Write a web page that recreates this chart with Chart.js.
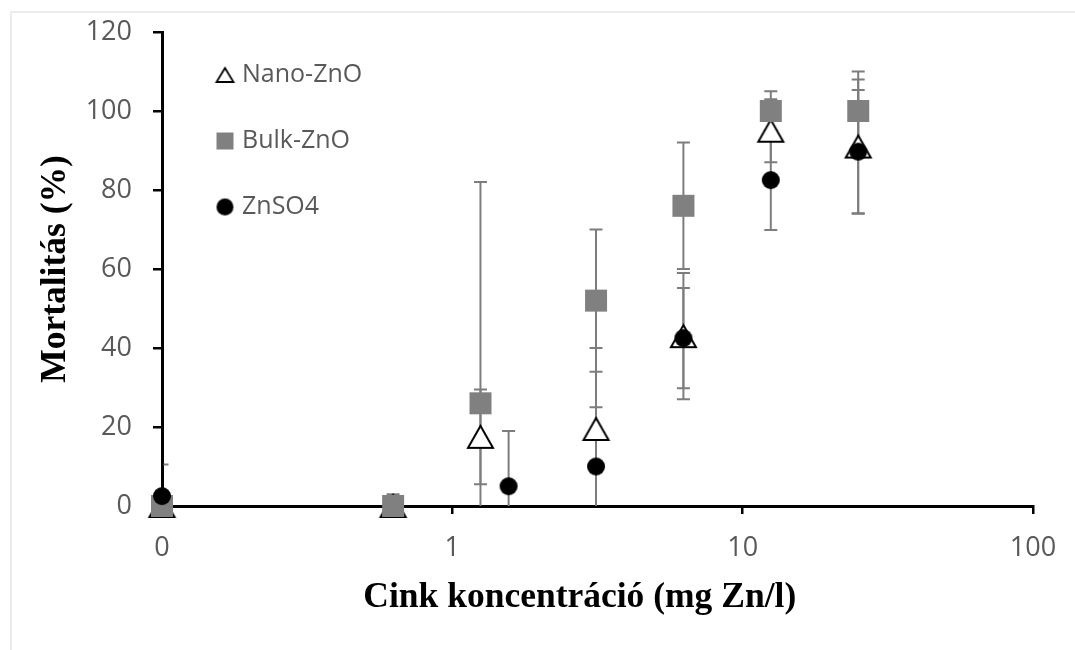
<!DOCTYPE html>
<html lang="hu">
<head>
<meta charset="utf-8">
<title>Mortalitás – cink koncentráció</title>
<script src="https://cdn.jsdelivr.net/npm/chart.js@4.4.1/dist/chart.umd.min.js"></script>
<style>
  html, body { margin: 0; padding: 0; background: #fff; }
  #wrap { position: relative; width: 1075px; height: 650px; overflow: hidden; }
  #frame { position: absolute; left: 10px; top: 11px; right: -5px; bottom: -5px;
           border-top: 2px solid #ececec; border-left: 2px solid #ececec; }
  #chart { position: absolute; left: 0; top: 0; }
</style>
</head>
<body>
<div id="wrap">
  <div id="frame"></div>
  <canvas id="chart" width="1075" height="650"></canvas>
</div>
<script>
// Zinc concentration (mg Zn/l); the untreated control (0) is placed at 0.1 on the log axis
const nanoConc  = [0.1, 0.625, 1.25, 3.125, 6.25, 12.5, 25];
const nanoMort  = [0, 0, 17.5, 19.5, 43, 95, 91];
const nanoErr   = [0, 0, 12, 20.5, 16, 8, 17];

const bulkConc  = [0.1, 0.625, 1.25, 3.125, 6.25, 12.5, 25];
const bulkMort  = [0, 0, 26, 52, 76, 100, 100];
const bulkErr   = [0, 3, 56, 18, 16, 5, 10];

const znso4Conc = [0.1, 1.5625, 3.125, 6.25, 12.5, 25];
const znso4Mort = [2.5, 5, 10, 42.5, 82.5, 89.7];
const znso4Err  = [8, 14, 15, 12.7, 12.6, 15.6];

const seriesNames = ['Nano-ZnO', 'Bulk-ZnO', 'ZnSO4'];

const xTickValues = [0.1, 1, 10, 100];
const xTickLabels = ['0', '1', '10', '100'];
const yTickValues = [0, 20, 40, 60, 80, 100, 120];

// Marker sprites: triangle / square / circle drawn onto small canvases
function marker(kind, w, h, fill, stroke, lw) {
  const pad = Math.ceil(lw) + 1;
  const c = document.createElement('canvas');
  c.width = Math.ceil(w + 2 * pad);
  c.height = Math.ceil(h + 2 * pad);
  const g = c.getContext('2d');
  const cx = c.width / 2, cy = c.height / 2;
  g.beginPath();
  if (kind === 'triangle') {
    g.moveTo(cx, cy - h / 2);
    g.lineTo(cx + w / 2, cy + h / 2);
    g.lineTo(cx - w / 2, cy + h / 2);
    g.closePath();
  } else if (kind === 'rect') {
    g.rect(cx - w / 2, cy - h / 2, w, h);
  } else {
    g.arc(cx, cy, w / 2, 0, Math.PI * 2);
  }
  g.fillStyle = fill;
  g.fill();
  if (lw) {
    g.lineWidth = lw;
    g.strokeStyle = stroke;
    g.lineJoin = 'miter';
    g.stroke();
  }
  return c;
}

const BULK_GREY = '#808080';
const triPlot = marker('triangle', 25, 22, '#fff', '#000', 2);
const sqPlot  = marker('rect', 22, 22, BULK_GREY, null, 0);
const dotPlot = marker('circle', 18, 18, '#000', null, 0);
const triLeg  = marker('triangle', 17, 14, '#fff', '#000', 1.8);
const sqLeg   = marker('rect', 17, 17, BULK_GREY, null, 0);
const dotLeg  = marker('circle', 17, 17, '#000', null, 0);

const series = [
  { name: seriesNames[0], x: nanoConc,  y: nanoMort,  err: nanoErr,  style: triPlot, legend: triLeg, order: 2 },
  { name: seriesNames[1], x: bulkConc,  y: bulkMort,  err: bulkErr,  style: sqPlot,  legend: sqLeg,  order: 1 },
  { name: seriesNames[2], x: znso4Conc, y: znso4Mort, err: znso4Err, style: dotPlot, legend: dotLeg, order: 0 }
];

// Vertical error bars (clipped at the 0 % baseline and the y axis), drawn beneath all markers
const errorBars = {
  id: 'errorBars',
  beforeDatasetsDraw(chart) {
    const { ctx, chartArea, scales: { x: xs, y: ys } } = chart;
    const cap = 13;
    ctx.save();
    ctx.beginPath();
    ctx.rect(chartArea.left + 1.5, 0, chartArea.right - chartArea.left, chart.height);
    ctx.clip();
    ctx.strokeStyle = '#7d7d7d';
    ctx.lineWidth = 2;
    series.forEach(s => {
      s.x.forEach((xv, i) => {
        const e = s.err[i];
        if (!e) return;
        const px = xs.getPixelForValue(xv);
        const hi = s.y[i] + e;
        const loRaw = s.y[i] - e;
        const lo = Math.max(loRaw, ys.min);
        const pHi = ys.getPixelForValue(hi);
        const pLo = ys.getPixelForValue(lo);
        ctx.beginPath();
        ctx.moveTo(px, pHi);
        ctx.lineTo(px, pLo);
        ctx.moveTo(px - cap / 2, pHi);
        ctx.lineTo(px + cap / 2, pHi);
        if (loRaw >= ys.min) {
          ctx.moveTo(px - cap / 2, pLo);
          ctx.lineTo(px + cap / 2, pLo);
        }
        ctx.stroke();
      });
    });
    ctx.restore();
  }
};

// Moves the in-plot legend block to its place in the upper-left corner
const legendPlacement = {
  id: 'legendPlacement',
  afterLayout(chart) {
    if (chart.legend) {
      chart.legend.left += 17.5;
      chart.legend.top += 21.5;
    }
  }
};

const tickFont = { family: 'Open Sans', size: 27 };
const titleFont = { family: 'Liberation Serif', size: 35.5, weight: 'bold' };
const TICK_COLOR = '#595959';

new Chart(document.getElementById('chart'), {
  type: 'scatter',
  data: {
    datasets: series.map(s => ({
      label: s.name,
      data: s.x.map((xv, i) => ({ x: xv, y: s.y[i] })),
      pointStyle: s.style,
      pointRadius: 12,
      pointHoverRadius: 12,
      showLine: false,
      clip: false,
      order: s.order
    }))
  },
  options: {
    responsive: false,
    animation: false,
    events: [],
    layout: { padding: { left: 10, top: 32, right: 42, bottom: 12 } },
    scales: {
      x: {
        type: 'logarithmic',
        position: 'bottom',
        min: 0.1,
        max: 100,
        afterBuildTicks: s => { s.ticks = xTickValues.map(v => ({ value: v })); },
        afterFit: s => { s.height = 132; },
        ticks: {
          autoSkip: false,
          maxRotation: 0,
          font: tickFont,
          color: TICK_COLOR,
          padding: 18,
          callback: v => {
            let best = 0;
            xTickValues.forEach((t, i) => {
              if (Math.abs(Math.log10(t) - Math.log10(v)) < Math.abs(Math.log10(xTickValues[best]) - Math.log10(v))) best = i;
            });
            return xTickLabels[best];
          }
        },
        grid: { display: true, drawOnChartArea: false, drawTicks: true, tickLength: 8, color: '#000', lineWidth: 2.5 },
        border: { display: true, color: '#000', width: 3 },
        title: {
          display: true,
          text: 'Cink koncentráció (mg Zn/l)\u00a0\u00a0\u00a0\u00a0',
          font: titleFont,
          color: '#000',
          padding: { top: 0, bottom: 18.7 }
        }
      },
      y: {
        type: 'linear',
        min: 0,
        max: 120,
        afterBuildTicks: s => { s.ticks = yTickValues.map(v => ({ value: v })); },
        afterFit: s => { s.width = 152; s.paddingTop = 0; s.paddingBottom = 0; },
        ticks: { font: tickFont, color: TICK_COLOR, padding: 21 },
        grid: { display: true, drawOnChartArea: false, drawTicks: true, tickLength: 9, color: '#000', lineWidth: 2.5 },
        border: { display: true, color: '#000', width: 3 },
        title: {
          display: true,
          text: 'Mortalitás (%)',
          font: titleFont,
          color: '#000',
          padding: { top: 24.7, bottom: 0 }
        }
      }
    },
    plugins: {
      tooltip: { enabled: false },
      legend: {
        display: true,
        position: 'chartArea',
        align: 'start',
        labels: {
          usePointStyle: true,
          pointStyleWidth: 9,
          padding: 41,
          color: TICK_COLOR,
          font: { family: 'Open Sans', size: 25 },
          generateLabels: () => series.map((s, i) => ({
            text: s.name,
            pointStyle: s.legend,
            datasetIndex: i,
            hidden: false,
            lineWidth: 0,
            strokeStyle: 'rgba(0,0,0,0)',
            fillStyle: 'rgba(0,0,0,0)',
            fontColor: TICK_COLOR
          }))
        }
      }
    }
  },
  plugins: [errorBars, legendPlacement]
});
</script>
</body>
</html>
